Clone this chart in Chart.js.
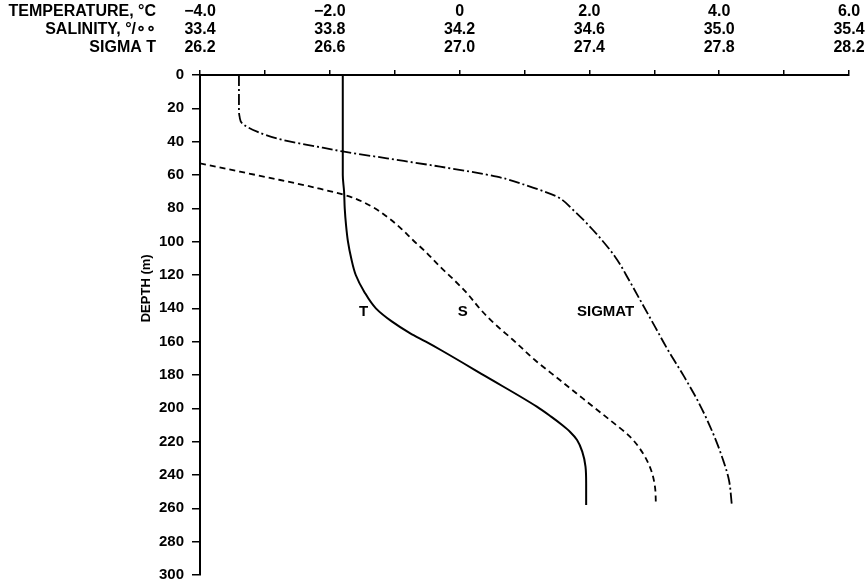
<!DOCTYPE html>
<html>
<head>
<meta charset="utf-8">
<title>Depth profiles</title>
<script src="https://cdn.jsdelivr.net/npm/chart.js@4.4.1/dist/chart.umd.min.js"></script>
<style>
  html, body { margin: 0; padding: 0; background: #fff; }
  #wrap { width: 866px; height: 586px; }
</style>
</head>
<body>
<div id="wrap"><canvas id="profileChart" width="866" height="586"></canvas></div>
<script>
// Tick labels for the three top scales (one label per 2 degC)
const tempTicks = ["\u22124.0", "\u22122.0", "0", "2.0", "4.0", "6.0"];
const salinityTicks = ["33.4", "33.8", "34.2", "34.6", "35.0", "35.4"];
const sigmaTicks = ["26.2", "26.6", "27.0", "27.4", "27.8", "28.2"];
const headerNames = ["TEMPERATURE, \u00b0C", "SALINITY, \u00b0/\u2218\u2218", "SIGMA T"];

// Temperature profile (degC vs depth m)
const depthT = [0, 20, 40, 60, 70, 80, 90, 100, 110, 120, 130, 140, 148, 155, 160, 165, 181, 199, 205, 210, 214, 219, 226, 235, 245, 258];
const tempT = [-1.80, -1.80, -1.80, -1.80, -1.78, -1.77, -1.75, -1.72, -1.67, -1.60, -1.47, -1.29, -1.04, -0.76, -0.52, -0.29, 0.41, 1.19, 1.41, 1.58, 1.70, 1.81, 1.89, 1.94, 1.95, 1.95];

// Salinity profile (per mil)
const depthS = [53, 58, 63, 68, 73, 79, 85, 92, 99, 107, 115, 123, 131, 141, 150, 159, 171, 183, 195, 207, 217, 227, 237, 247, 258];
const salinity = [33.400, 33.523, 33.647, 33.764, 33.862, 33.930, 33.976, 34.019, 34.056, 34.100, 34.140, 34.183, 34.223, 34.266, 34.312, 34.365, 34.432, 34.509, 34.586, 34.663, 34.725, 34.765, 34.790, 34.802, 34.805];

// Sigma-t profile
const depthSig = [0, 10, 20, 25, 29, 34, 39, 43, 46, 50, 55, 61, 67, 73, 81, 93, 109, 123, 137, 151, 165, 181, 197, 215, 231, 243, 258];
const sigmaT = [26.320, 26.320, 26.320, 26.322, 26.330, 26.376, 26.456, 26.561, 26.644, 26.776, 26.940, 27.115, 27.217, 27.300, 27.350, 27.411, 27.479, 27.522, 27.562, 27.602, 27.642, 27.692, 27.738, 27.781, 27.812, 27.830, 27.839];

// Curve names placed at a value on their own scale
const curveNames = ["T", "S", "SIGMAT"];
const curveNameAxes = ["x", "xS", "xSig"];
const curveNameValues = [-1.48, 34.21, 27.45];
const curveNameDepth = 142;

const FONT = '"Liberation Sans", Arial, Helvetica, sans-serif';
Chart.defaults.font.family = FONT;
Chart.defaults.font.weight = 'bold';
Chart.defaults.font.size = 15;
Chart.defaults.color = '#000';

const TICK_LEN = 5;
const TICK_PAD = 13;
const LINE_H = 18;

function pts(xs, ys) {
    return xs.map((v, i) => ({ x: v, y: ys[i] }));
}

// Names of the top scales to the left of the stacked tick labels,
// plus the depth title and the curve names
const extraText = {
    id: 'extraText',
    afterDraw(chart) {
        const ctx = chart.ctx;
        const xs = chart.scales.x;
        const ys = chart.scales.y;
        ctx.save();
        ctx.fillStyle = '#000';
        ctx.font = 'bold 16px ' + FONT;
        ctx.textAlign = 'right';
        ctx.textBaseline = 'middle';
        const bottom = xs.bottom - TICK_LEN - TICK_PAD;
        headerNames.forEach((name, i) => {
            const y = bottom - (headerNames.length - i - 0.5) * LINE_H;
            ctx.fillText(name, 156, y);
        });

        ctx.font = 'bold 15px ' + FONT;
        ctx.textAlign = 'center';
        curveNames.forEach((name, i) => {
            const sc = chart.scales[curveNameAxes[i]];
            ctx.fillText(name, sc.getPixelForValue(curveNameValues[i]), ys.getPixelForValue(curveNameDepth));
        });

        ctx.font = 'bold 13px ' + FONT;
        ctx.translate(146, ys.getPixelForValue(128));
        ctx.rotate(-Math.PI / 2);
        ctx.fillText('DEPTH (m)', 0, 0);
        ctx.restore();
    }
};

const ctx = document.getElementById('profileChart').getContext('2d');

new Chart(ctx, {
    type: 'line',
    data: {
        datasets: [
            {
                label: 'T',
                data: pts(tempT, depthT),
                xAxisID: 'x',
                borderColor: '#000',
                borderWidth: 2,
                pointRadius: 0,
                cubicInterpolationMode: 'monotone'
            },
            {
                label: 'S',
                data: pts(salinity, depthS),
                xAxisID: 'xS',
                borderColor: '#000',
                borderWidth: 1.8,
                borderDash: [6, 4],
                pointRadius: 0,
                cubicInterpolationMode: 'monotone'
            },
            {
                label: 'SIGMA T',
                data: pts(sigmaT, depthSig),
                xAxisID: 'xSig',
                borderColor: '#000',
                borderWidth: 1.8,
                borderDash: [11, 3, 2, 3],
                pointRadius: 0,
                cubicInterpolationMode: 'monotone'
            }
        ]
    },
    options: {
        indexAxis: 'y',
        responsive: false,
        animation: false,
        layout: { padding: { left: 0, top: 0, right: 17, bottom: 11 } },
        plugins: {
            legend: { display: false },
            tooltip: { enabled: false }
        },
        scales: {
            x: {
                type: 'linear',
                position: 'top',
                min: -4,
                max: 6,
                afterFit: (scale) => {
                    scale.height = 75;
                    scale.paddingLeft = 0;
                    scale.paddingRight = 0;
                },
                border: { display: true, color: '#000', width: 2 },
                grid: {
                    drawOnChartArea: false,
                    drawTicks: true,
                    tickLength: TICK_LEN,
                    color: '#000',
                    lineWidth: 1.5
                },
                ticks: {
                    stepSize: 1,
                    autoSkip: false,
                    maxRotation: 0,
                    padding: TICK_PAD,
                    font: { size: 16, weight: 'bold', lineHeight: LINE_H / 16 },
                    callback: function (value) {
                        const i = Math.round(value + 4);
                        if (i % 2 !== 0) return '';
                        const k = i / 2;
                        return [tempTicks[k], salinityTicks[k], sigmaTicks[k]];
                    }
                }
            },
            xS: {
                type: 'linear',
                position: 'top',
                min: 33.4,
                max: 35.4,
                display: false
            },
            xSig: {
                type: 'linear',
                position: 'top',
                min: 26.2,
                max: 28.2,
                display: false
            },
            y: {
                type: 'linear',
                reverse: true,
                min: 0,
                max: 300,
                afterFit: (scale) => {
                    scale.width = 200;
                    scale.paddingTop = 0;
                    scale.paddingBottom = 0;
                },
                border: { display: true, color: '#000', width: 2 },
                grid: {
                    drawOnChartArea: false,
                    drawTicks: true,
                    tickLength: 8,
                    color: '#000',
                    lineWidth: 1.5
                },
                ticks: {
                    stepSize: 20,
                    padding: 8,
                    font: { size: 15, weight: 'bold' }
                }
            }
        }
    },
    plugins: [extraText]
});
</script>
</body>
</html>
